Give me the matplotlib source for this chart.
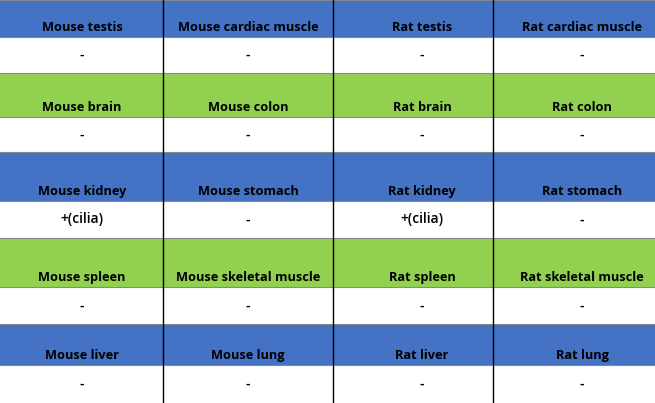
import matplotlib
matplotlib.use("Agg")
import matplotlib.pyplot as plt
from matplotlib.patches import Rectangle

headers = [
    ["Mouse testis", "Mouse cardiac muscle", "Rat testis", "Rat cardiac muscle"],
    ["Mouse brain", "Mouse colon", "Rat brain", "Rat colon"],
    ["Mouse kidney", "Mouse stomach", "Rat kidney", "Rat stomach"],
    ["Mouse spleen", "Mouse skeletal muscle", "Rat spleen", "Rat skeletal muscle"],
    ["Mouse liver", "Mouse lung", "Rat liver", "Rat lung"],
]
results = [
    ["-", "-", "-", "-"],
    ["-", "-", "-", "-"],
    ["+(cilia)", "-", "+(cilia)", "-"],
    ["-", "-", "-", "-"],
    ["-", "-", "-", "-"],
]
header_colors = ["#4472C4", "#92D050", "#4472C4", "#92D050", "#4472C4"]

W, H = 655, 403
col_edges = [0, 163, 333, 493, 655]
row_edges = [0, 37, 73, 117, 152, 201, 238, 287, 324, 365, 403]
col_centers = [82, 248, 422, 582]

fig = plt.figure(figsize=(6.55, 4.03), dpi=100)
ax = fig.add_axes([0, 0, 1, 1])
ax.set_xlim(0, W)
ax.set_ylim(H, 0)
ax.axis("off")
fam = ["Open Sans", "DejaVu Sans"]

for i in range(5):
    top, mid, bot = row_edges[2 * i], row_edges[2 * i + 1], row_edges[2 * i + 2]
    ax.add_patch(Rectangle((0, top), W, mid - top, color=header_colors[i], lw=0))
    ax.axhline(top, color="#888888", lw=0.8)
    ax.axhline(mid, color="#888888", lw=0.8)
    for j in range(4):
        ax.text(col_centers[j], mid - 6, headers[i][j], ha="center", va="baseline",
                fontweight="bold", family=fam, fontsize=9.2, color="black")
        ax.text(col_centers[j], (mid + bot) / 2 + 4, results[i][j], ha="center",
                va="baseline", family=fam, fontsize=10, fontweight="semibold",
                color="black")

for x in col_edges[1:-1]:
    ax.axvline(x, color="black", lw=1)

fig.savefig("out.png", dpi=100)
